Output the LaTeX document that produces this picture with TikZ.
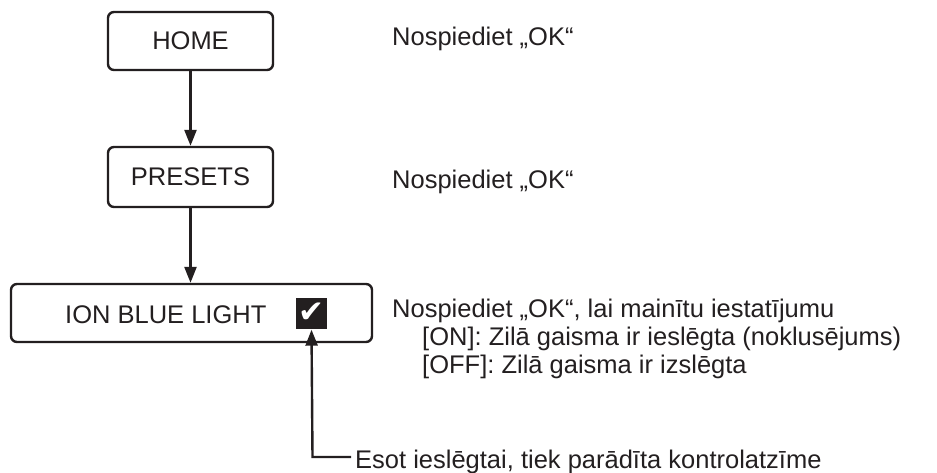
\documentclass[tikz,border=0pt]{standalone}
\usepackage{fontspec}
\setmainfont{Liberation Sans}
\newfontfamily\symfont{DejaVu Sans}
\usetikzlibrary{arrows.meta}
\definecolor{ink}{HTML}{231F20}

\begin{document}
\begin{tikzpicture}[x=1pt, y=-1pt, >={Triangle[length=16pt, width=12pt]},
  line width=2.4pt, draw=ink, text=ink,
  font=\fontsize{25.5}{30}\selectfont,
  menubox/.style={draw=ink, rounded corners=6pt, inner sep=0pt},
  note/.style={anchor=base west, inner sep=0pt}]
  \useasboundingbox (0,0) rectangle (937,472);

  % Menu boxes
  \node[menubox, minimum width=165pt, minimum height=58pt] (home) at (190.5,41) {HOME};
  \node[menubox, minimum width=165pt, minimum height=60pt] (presets) at (190.5,177) {PRESETS};
  \node[menubox, minimum width=361pt, minimum height=58pt] (ion) at (191.5,313) {};
  \node[anchor=base west, inner sep=0pt] (ionlabel) at (64,323) {ION BLUE LIGHT};
  \node[fill=ink, text=white, minimum size=31pt, inner sep=0pt,
        font=\symfont\fontsize{31}{31}\selectfont] (check) at (311.5,313) {✔};

  % Arrows
  \draw[->, ink] (home.south) -- (presets.north);
  \draw[->, ink] (presets.south) -- (presets.south |- ion.north);
  \coordinate (corner) at (312.5,457);
  \coordinate (hint) at (351,457);
  \draw[->, ink] (hint) -- (corner) -- (check.south);

  % Notes
  \node[note] (okhome) at (391,45) {Nospiediet „OK“};
  \node[note] (okpresets) at (391,188) {Nospiediet „OK“};
  \node[note] (okion) at (391,317) {Nospiediet „OK“, lai mainītu iestatījumu};
  \node[note] (on) at (421,345) {[ON]: Zilā gaisma ir ieslēgta (noklusējums)};
  \node[note] (off) at (421,373) {[OFF]: Zilā gaisma ir izslēgta};
  \node[note] (shown) at (354,468) {Esot ieslēgtai, tiek parādīta kontrolatzīme};
\end{tikzpicture}
\end{document}
